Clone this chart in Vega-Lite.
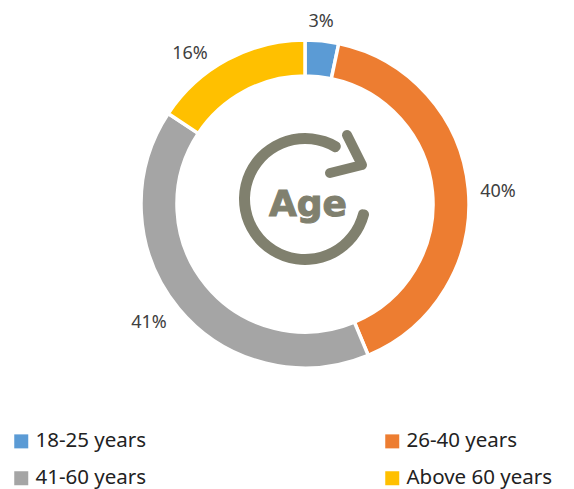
{
"$schema":"https://vega.github.io/schema/vega-lite/v6.json",
"width":538,"height":408,"autosize":{"type":"none"},
"padding":{"left":36,"top":0,"right":0,"bottom":81},
"background":"white",
"config":{"view":{"stroke":null}},
"datasets":{"age":[
{"group":"18-25 years","share":3.3,"label":"3%","rank":1},
{"group":"26-40 years","share":40.4,"label":"40%","rank":2},
{"group":"41-60 years","share":40.6,"label":"41%","rank":3},
{"group":"Above 60 years","share":15.7,"label":"16%","rank":4}]},
"layer":[
{"data":{"name":"age"},
"mark":{"type":"arc","innerRadius":128,"outerRadius":164,"stroke":"white","strokeWidth":3.5},
"encoding":{
"theta":{"field":"share","type":"quantitative","stack":true},
"order":{"field":"rank","type":"quantitative"},
"color":{"field":"group","type":"nominal",
"scale":{"domain":["18-25 years","26-40 years","41-60 years","Above 60 years"],"range":["#5B9BD5","#ED7D31","#A5A5A5","#FFC000"]},
"legend":{"title":null,"orient":"none","direction":"horizontal","legendX":-25,"legendY":431,"columns":2,"columnPadding":235,"rowPadding":16,"symbolType":"square","symbolSize":196,"symbolStrokeWidth":0,"symbolOpacity":1,"labelFont":"Noto Sans","labelFontSize":20.5,"labelColor":"#222222","labelOffset":4,"labelLimit":200}}}},
{"data":{"values":[{"part":"ring","from":100,"to":395}]},
"mark":{"type":"arc","innerRadius":55,"outerRadius":66,"cornerRadius":5,"color":"#80806E"},
"encoding":{
"theta":{"field":"from","type":"quantitative","scale":{"domain":[0,360]}},
"theta2":{"field":"to"},
"x":{"datum":0,"type":"quantitative","scale":{"domain":[-269,269],"nice":false,"zero":false},"axis":null},
"y":{"datum":5,"type":"quantitative","scale":{"domain":[-204,204],"nice":false,"zero":false},"axis":null}}},
{"data":{"values":[{"h":42,"v":69,"o":1},{"h":57,"v":39,"o":2},{"h":25,"v":31,"o":3}]},
"mark":{"type":"line","color":"#80806E","strokeWidth":10,"strokeCap":"round","strokeJoin":"round"},
"encoding":{
"x":{"field":"h","type":"quantitative","axis":null},
"y":{"field":"v","type":"quantitative","axis":null},
"order":{"field":"o","type":"quantitative"}}},
{"data":{"values":[{"t":"Age"}]},
"mark":{"type":"text","font":"DejaVu Sans","fontWeight":"bold","fontSize":36,"color":"#80806E","stroke":"#80806E","strokeWidth":1,"align":"center","baseline":"middle"},
"encoding":{"text":{"field":"t"},"x":{"datum":3,"type":"quantitative"},"y":{"datum":-1,"type":"quantitative"}}},
{"data":{"name":"age"},"transform":[{"filter":"datum.rank==1"}],
"mark":{"type":"text","font":"Noto Sans","fontSize":18,"color":"#404040"},
"encoding":{"text":{"field":"label"},"x":{"datum":16,"type":"quantitative"},"y":{"datum":182,"type":"quantitative"}}},
{"data":{"name":"age"},"transform":[{"filter":"datum.rank==2"}],
"mark":{"type":"text","font":"Noto Sans","fontSize":18,"color":"#404040"},
"encoding":{"text":{"field":"label"},"x":{"datum":193,"type":"quantitative"},"y":{"datum":12,"type":"quantitative"}}},
{"data":{"name":"age"},"transform":[{"filter":"datum.rank==3"}],
"mark":{"type":"text","font":"Noto Sans","fontSize":18,"color":"#404040"},
"encoding":{"text":{"field":"label"},"x":{"datum":-156,"type":"quantitative"},"y":{"datum":-119,"type":"quantitative"}}},
{"data":{"name":"age"},"transform":[{"filter":"datum.rank==4"}],
"mark":{"type":"text","font":"Noto Sans","fontSize":18,"color":"#404040"},
"encoding":{"text":{"field":"label"},"x":{"datum":-115,"type":"quantitative"},"y":{"datum":150,"type":"quantitative"}}}
],
"resolve":{"scale":{"theta":"independent"}}
}
